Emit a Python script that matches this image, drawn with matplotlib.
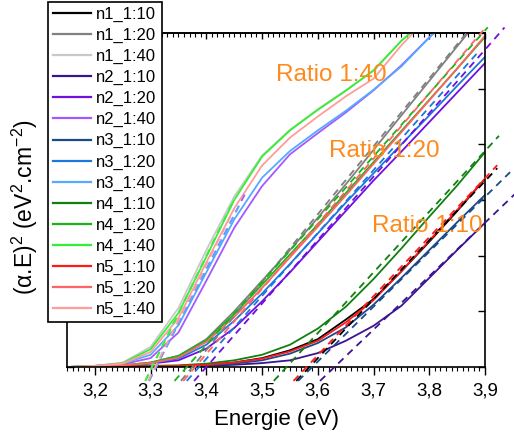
import matplotlib
matplotlib.use("Agg")
import matplotlib.pyplot as plt
from matplotlib.ticker import MultipleLocator, FuncFormatter, NullFormatter
import numpy as np

plt.rcParams['font.family'] = ['Liberation Sans', 'DejaVu Sans']
plt.rcParams['mathtext.fontset'] = 'custom'
plt.rcParams['mathtext.rm'] = 'Liberation Sans'
plt.rcParams['mathtext.it'] = 'Liberation Sans:italic'

# ---------------- data ----------------
energy = [3.15, 3.20, 3.25, 3.30, 3.35, 3.40, 3.45, 3.50, 3.55, 3.60,
          3.65, 3.70, 3.75, 3.80, 3.85, 3.90]

names = ["n1_1:10", "n1_1:20", "n1_1:40",
         "n2_1:10", "n2_1:20", "n2_1:40",
         "n3_1:10", "n3_1:20", "n3_1:40",
         "n4_1:10", "n4_1:20", "n4_1:40",
         "n5_1:10", "n5_1:20", "n5_1:40"]

colors = ["#000000", "#808080", "#c8c8c8",
          "#3c1490", "#7010e0", "#a458ff",
          "#1a4a8a", "#1a78e0", "#55aaff",
          "#108010", "#18b418", "#33f033",
          "#ff1a1a", "#ff6464", "#ff9c9c"]

n1_1_10 = [0.0, 0.0, 0.01, 0.01, 0.02, 0.04, 0.08, 0.16, 0.30, 0.50, 0.85, 1.22, 1.72, 2.25, 2.80, 3.38]
n1_1_20 = [0.0, 0.01, 0.03, 0.08, 0.20, 0.50, 1.00, 1.55, 2.10, 2.68, 3.28, 3.90, 4.52, 5.14, 5.76, 6.38]
n1_1_40 = [0.0, 0.02, 0.08, 0.36, 1.06, 2.10, 3.06, 3.80, 4.26, 4.63, 4.97, 5.32, 5.86, 6.30, 6.80, 7.30]
n2_1_10 = [0.0, 0.0, 0.0, 0.01, 0.01, 0.02, 0.04, 0.07, 0.12, 0.25, 0.47, 0.74, 1.10, 1.60, 2.10, 2.59]
n2_1_20 = [0.0, 0.01, 0.02, 0.06, 0.12, 0.33, 0.70, 1.18, 1.70, 2.25, 2.80, 3.35, 3.87, 4.40, 4.93, 5.46]
n2_1_40 = [0.0, 0.02, 0.05, 0.16, 0.62, 1.55, 2.50, 3.25, 3.82, 4.20, 4.57, 4.97, 5.42, 5.92, 6.40, 6.90]
n3_1_10 = [0.0, 0.0, 0.0, 0.01, 0.02, 0.03, 0.06, 0.12, 0.24, 0.43, 0.71, 1.12, 1.60, 2.10, 2.60, 3.09]
n3_1_20 = [0.0, 0.01, 0.02, 0.07, 0.15, 0.40, 0.83, 1.32, 1.85, 2.40, 2.95, 3.48, 4.00, 4.52, 5.05, 5.57]
n3_1_40 = [0.0, 0.02, 0.06, 0.22, 0.75, 1.70, 2.65, 3.40, 3.88, 4.25, 4.60, 4.98, 5.40, 5.92, 6.40, 6.90]
n4_1_10 = [0.0, 0.0, 0.01, 0.02, 0.03, 0.06, 0.12, 0.22, 0.40, 0.69, 1.08, 1.58, 2.13, 2.70, 3.26, 3.86]
n4_1_20 = [0.0, 0.01, 0.03, 0.08, 0.20, 0.48, 0.95, 1.48, 2.02, 2.56, 3.12, 3.68, 4.24, 4.80, 5.36, 5.93]
n4_1_40 = [0.0, 0.02, 0.07, 0.32, 0.97, 1.98, 3.00, 3.78, 4.25, 4.62, 4.96, 5.33, 5.86, 6.30, 6.80, 7.30]
n5_1_10 = [0.0, 0.0, 0.01, 0.01, 0.02, 0.04, 0.08, 0.15, 0.28, 0.47, 0.80, 1.20, 1.72, 2.27, 2.82, 3.38]
n5_1_20 = [0.0, 0.01, 0.03, 0.07, 0.17, 0.45, 0.90, 1.42, 1.97, 2.52, 3.08, 3.65, 4.22, 4.79, 5.36, 5.95]
n5_1_40 = [0.0, 0.02, 0.06, 0.27, 0.88, 1.88, 2.85, 3.62, 4.12, 4.50, 4.86, 5.18, 5.78, 6.30, 6.80, 7.30]

series = [n1_1_10, n1_1_20, n1_1_40, n2_1_10, n2_1_20, n2_1_40,
          n3_1_10, n3_1_20, n3_1_40, n4_1_10, n4_1_20, n4_1_40,
          n5_1_10, n5_1_20, n5_1_40]

# Tauc tangent lines: band gap (x-intercept), slope, end energy
gap =   [3.585, 3.375, 3.302, 3.630, 3.400, 3.310, 3.590, 3.387, 3.310,
         3.544, 3.365, 3.303, 3.580, 3.380, 3.308]
slope = [10.6, 12.2, 20.5, 9.6, 11.4, 19.5, 9.86, 11.3, 19.5,
         10.9, 11.3, 20.5, 10.6, 11.7, 20.0]
e_end = [3.922, 3.866, 3.45, 3.955, 3.935, 3.47, 3.945, 3.89, 3.46,
         3.925, 3.905, 3.45, 3.922, 3.897, 3.45]
y_low = -0.25

ratio_labels = ["Ratio 1:40", "Ratio 1:20", "Ratio 1:10"]
ratio_pos = [(3.625, 5.13), (3.72, 3.77), (3.796, 2.42)]

# ---------------- figure ----------------
fig = plt.figure(figsize=(5.14, 4.37), dpi=100)
ax = fig.add_axes([67/514, 1-367/437, (485-67)/514, (367-33)/437])

handles = []
for nm, c, ys in zip(names, colors, series):
    h, = ax.plot(energy, ys, color=c, lw=1.3, label=nm, zorder=2)
    handles.append(h)

for c, g, s, ee in zip(colors, gap, slope, e_end):
    e0 = g + y_low / s
    ax.plot([e0, ee], [y_low, s * (ee - g)], color=c, lw=1.3,
            linestyle=(0, (4, 3)), clip_on=False, zorder=3)

for t, (xx, yy) in zip(ratio_labels, ratio_pos):
    ax.text(xx, yy, t, color="#ff8a1c", fontsize=17.5, ha="center",
            va="baseline", zorder=5)

ax.set_xlim(3.15, 3.9)
ax.set_ylim(0, 6)
ax.xaxis.set_major_locator(MultipleLocator(0.1))
ax.xaxis.set_minor_locator(MultipleLocator(0.01))
ax.yaxis.set_major_locator(MultipleLocator(1))
ax.xaxis.set_major_formatter(FuncFormatter(lambda v, p: f"{v:.1f}".replace(".", ",")))
ax.tick_params(axis="x", which="major", direction="out", length=6, width=1,
               labelsize=13.5, pad=5, top=False)
ax.tick_params(axis="x", which="minor", direction="out", length=3, width=0.8, top=False)
ax.tick_params(axis="y", which="major", direction="in", length=5, width=1,
               left=True, right=True, labelleft=False)

sec = ax.secondary_xaxis("top")
sec.xaxis.set_major_locator(MultipleLocator(0.1))
sec.xaxis.set_minor_locator(MultipleLocator(0.01))
sec.xaxis.set_major_formatter(NullFormatter())
sec.tick_params(which="major", direction="in", length=4, width=1)
sec.tick_params(which="minor", direction="in", length=3, width=0.8)
sec.spines["top"].set_linewidth(1.2)

for sp in ax.spines.values():
    sp.set_linewidth(1.2)

ax.set_xlabel("Energie (eV)", fontsize=16, labelpad=7)
fig.text(25/514, 1-207/437, r"(α.E)$^2$ (eV$^2$.cm$^{-2}$)", rotation=90,
         ha="center", va="center", fontsize=16.5)

leg = fig.legend(handles=handles, loc="upper left",
                 bbox_to_anchor=(48/514, 1-2/437), bbox_transform=fig.transFigure,
                 fontsize=12, frameon=True, fancybox=False, edgecolor="black",
                 framealpha=1, borderaxespad=0, borderpad=0.3,
                 labelspacing=0.355, handlelength=2.3, handletextpad=0.3)
leg.get_frame().set_linewidth(1.2)
for l in leg.get_lines():
    l.set_linewidth(1.6)

fig.savefig("out.png", dpi=100)
